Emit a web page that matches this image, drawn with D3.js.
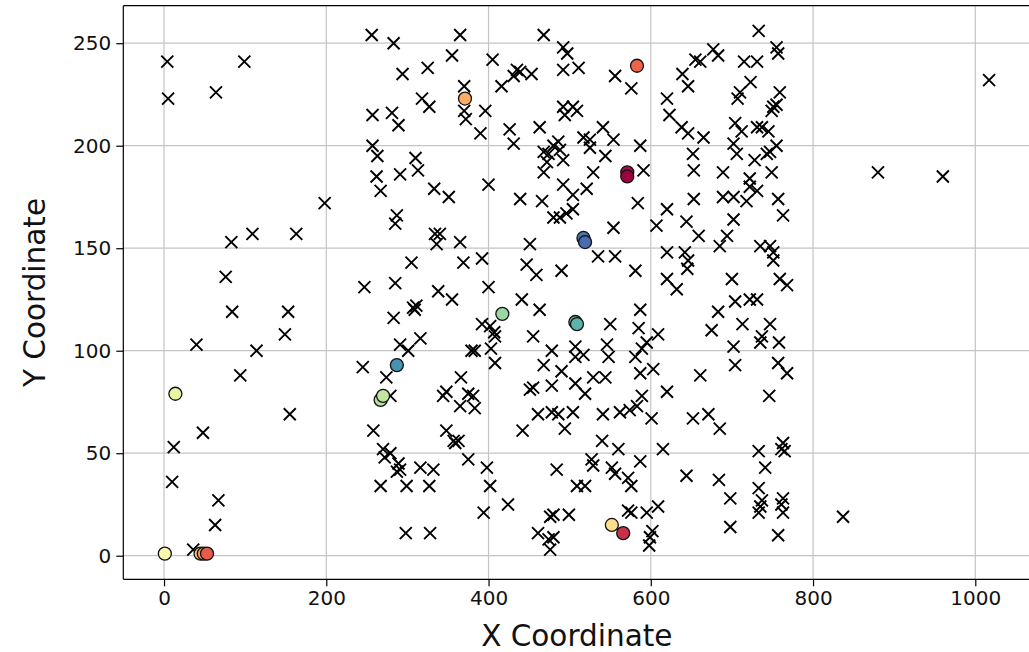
<!DOCTYPE html>
<html>
<head>
<meta charset="utf-8">
<script src="https://cdn.jsdelivr.net/npm/d3@7"></script>
<style>
  html, body { margin: 0; padding: 0; background: #fff; }
  svg { display: block; }
  text { font-family: "DejaVu Sans", sans-serif; }
</style>
</head>
<body>
<svg id="chart" width="1029" height="652"></svg>
<script>
// ---------- data ----------
const xTicks = [0, 200, 400, 600, 800, 1000];
const yTicks = [0, 50, 100, 150, 200, 250];
const xLabel = "X Coordinate";
const yLabel = "Y Coordinate";

// data points (x markers)
const crossPoints = [
  [4,241],[5,223],[64,226],[99,241],[83,153],[109,157],[163,157],[198,172],[76,136],[84,119],
  [153,119],[149,108],[40,103],[114,100],[94,88],[155,69],[48,60],[12,53],[10,36],[67,27],[63,15],[36,3],
  [256,254],[283,250],[365,254],[468,254],[492,248],[497,245],[355,244],[405,242],[325,238],[294,235],
  [435,237],[439,236],[431,234],[453,235],[416,229],[492,237],[370,229],[318,223],[327,219],[370,217],
  [372,213],[396,217],[257,215],[281,216],[289,210],[390,206],[426,208],[431,201],[463,209],[257,200],
  [263,195],[310,194],[313,188],[262,185],[267,178],[291,186],[333,179],[351,175],[400,181],[439,174],
  [466,173],[492,181],[468,197],[474,196],[480,200],[486,202],[488,198],[472,192],[492,193],[468,187],
  [492,219],[494,215],
  [733,256],[755,248],[757,245],[677,247],[683,244],[655,242],[661,241],[639,235],[646,229],[715,241],
  [731,241],[723,231],[710,226],[707,223],[759,226],[751,219],[755,220],[749,217],[620,223],[623,215],
  [638,209],[646,206],[665,204],[704,211],[712,207],[731,209],[737,209],[745,207],[702,201],[706,196],
  [755,200],[747,197],[743,196],[652,196],[653,188],[689,187],[728,193],[749,187],[722,184],[722,180],
  [731,178],[653,174],[689,175],[702,175],[718,173],[757,174],[511,238],[556,234],[576,228],[504,219],
  [509,217],[517,204],[525,203],[541,209],[554,203],[525,199],[544,195],[587,200],[529,187],[591,188],
  [521,179],[504,176],[584,172],
  [287,166],[285,162],[480,165],[488,165],[496,167],[334,157],[340,157],[336,152],[365,153],[451,152],
  [305,143],[369,143],[392,145],[447,142],[459,137],[490,139],[247,131],[285,133],[338,129],[355,125],
  [400,131],[307,121],[309,120],[311,122],[441,125],[463,120],[283,116],[392,113],[402,112],[407,109],
  [408,107],[316,106],[291,103],[301,100],[455,107],[379,100],[383,100],[403,101],[478,100],[245,92],
  [274,87],[408,94],[366,87],[468,93],[490,90],[451,81],[455,82],[478,83],[348,80],[344,78],[375,79],
  [381,78],[279,78],
  [504,169],[620,169],[763,166],[702,164],[644,163],[607,161],[554,160],[659,156],[694,156],[685,151],
  [535,146],[556,146],[620,148],[642,148],[646,144],[645,140],[735,151],[747,151],[751,148],[751,144],
  [581,139],[620,135],[632,130],[700,135],[759,135],[768,132],[704,124],[722,125],[731,125],[587,120],
  [683,119],[550,113],[585,111],[609,108],[675,110],[713,113],[747,113],[737,107],[735,104],[595,104],
  [589,101],[702,102],[758,104],[507,102],[517,98],[507,97],[546,103],[548,97],[581,97],[587,89],
  [603,91],[704,93],[661,88],[757,94],[768,89],[529,87],[544,87],[507,84],[519,79],[589,78],[620,80],[746,78],
  [365,73],[383,72],[258,61],[348,61],[357,56],[363,56],[359,55],[442,61],[461,69],[478,70],[486,69],
  [494,62],[270,52],[279,50],[272,48],[289,45],[291,42],[287,41],[316,43],[332,42],[375,47],[398,43],
  [484,42],[267,34],[299,34],[327,34],[402,34],[424,25],[394,21],[476,19],[480,20],[499,20],[298,11],
  [328,11],[461,11],[474,8],[480,9],[476,3],
  [504,70],[541,69],[562,70],[574,71],[583,73],[601,67],[652,67],[671,69],[685,62],[540,56],[560,52],
  [615,52],[733,51],[741,43],[763,55],[765,51],[761,52],[527,47],[529,44],[552,43],[556,40],[587,46],
  [572,38],[576,34],[644,39],[684,37],[733,33],[509,34],[519,34],[698,28],[737,27],[735,24],[733,21],
  [763,28],[761,25],[763,21],[572,22],[576,21],[595,21],[609,24],[602,12],[599,9],[598,5],[698,14],[757,10],
  [837,19],[1017,232],[880,187],[960,185]
];

// centres (circles): x, y, colour value on the Spectral scale
const centerX = [571, 571, 566, 583, 371, 552, 1, 14, 267, 270, 417, 507, 509, 287, 517, 519, 45, 49, 53];
const centerY = [187, 185, 11, 239, 223, 15, 1, 79, 76, 78, 118, 114, 113, 93, 155, 153, 1, 1, 1];
const centerValue = [0.02, 0.0, 0.08, 0.18, 0.3, 0.4, 0.5, 0.58, 0.68, 0.66, 0.72, 0.8, 0.82, 0.88, 0.93, 0.95, 0.34, 0.28, 0.16];

// ---------- layout ----------
const svg = d3.select("#chart");
const plotLeft = 123.3, plotRight = 1030.3, plotTop = 5.7, plotBottom = 579.3;

const x = d3.scaleLinear().domain([-50.2, 1067.8]).range([plotLeft, plotRight]);
const y = d3.scaleLinear().domain([-11.5, 268.3]).range([plotBottom, plotTop]);
const color = d3.scaleSequential(d3.interpolateSpectral).domain([0, 1]);

// grid
const grid = svg.append("g");
grid.selectAll("line.gx").data(xTicks).join("line")
  .attr("x1", d => x(d)).attr("x2", d => x(d))
  .attr("y1", plotTop).attr("y2", plotBottom)
  .attr("stroke", "#c4c4c4").attr("stroke-width", 1.2);
grid.selectAll("line.gy").data(yTicks).join("line")
  .attr("x1", plotLeft).attr("x2", plotRight)
  .attr("y1", d => y(d)).attr("y2", d => y(d))
  .attr("stroke", "#c4c4c4").attr("stroke-width", 1.2);

// crosses
const s = 6;
const crosses = svg.append("g").attr("stroke", "#000").attr("stroke-width", 1.9).attr("fill", "none");
crosses.selectAll("path").data(crossPoints).join("path")
  .attr("d", d => {
    const cx = x(d[0]), cy = y(d[1]);
    return `M${cx - s},${cy - s}L${cx + s},${cy + s}M${cx - s},${cy + s}L${cx + s},${cy - s}`;
  });

// centres
const centers = centerX.map((v, i) => ({ x: v, y: centerY[i], v: centerValue[i] }));
svg.append("g").selectAll("circle").data(centers).join("circle")
  .attr("cx", d => x(d.x)).attr("cy", d => y(d.y)).attr("r", 6.5)
  .attr("fill", d => color(d.v)).attr("stroke", "#111").attr("stroke-width", 1.3);

// axes
const xAxis = svg.append("g").attr("transform", `translate(0,${plotBottom})`)
  .call(d3.axisBottom(x).tickValues(xTicks).tickFormat(d3.format("d")).tickSize(7).tickPadding(5).tickSizeOuter(0));
const yAxis = svg.append("g").attr("transform", `translate(${plotLeft},0)`)
  .call(d3.axisLeft(y).tickValues(yTicks).tickFormat(d3.format("d")).tickSize(7).tickPadding(5).tickSizeOuter(0));
[xAxis, yAxis].forEach(a => {
  a.select(".domain").remove();
  a.selectAll(".tick line").attr("stroke", "#000").attr("stroke-width", 1.2);
  a.selectAll(".tick text").attr("fill", "#111").style("font-size", "20px").style("font-family", "DejaVu Sans");
});

// spines
const sp = svg.append("g").attr("stroke", "#000").attr("stroke-width", 1.2);
sp.append("line").attr("x1", plotLeft).attr("x2", plotLeft).attr("y1", plotTop).attr("y2", plotBottom);
sp.append("line").attr("x1", plotLeft).attr("x2", plotRight).attr("y1", plotBottom).attr("y2", plotBottom);
sp.append("line").attr("x1", plotLeft).attr("x2", plotRight).attr("y1", plotTop).attr("y2", plotTop);
sp.append("line").attr("x1", plotRight).attr("x2", plotRight).attr("y1", plotTop).attr("y2", plotBottom);

// axis labels
svg.append("text").attr("x", (plotLeft + plotRight) / 2).attr("y", 646)
  .attr("text-anchor", "middle").attr("fill", "#111").style("font-size", "29.5px").text(xLabel);
svg.append("text").attr("transform", `translate(45,${(plotTop + plotBottom) / 2}) rotate(-90)`)
  .attr("text-anchor", "middle").attr("fill", "#111").style("font-size", "29.5px").text(yLabel);
</script>
</body>
</html>
